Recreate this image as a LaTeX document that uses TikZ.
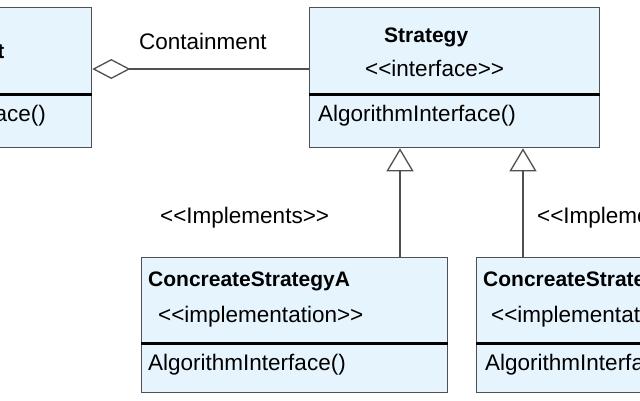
\documentclass[tikz,border=0pt]{standalone}
\usepackage{fontspec}
\setmainfont{Liberation Sans}[Ligatures=TeXOff]
\usetikzlibrary{arrows.meta}
\definecolor{boxfill}{HTML}{E6F5FD}
\definecolor{edge}{HTML}{505050}
\begin{document}
\begin{tikzpicture}[x=1pt,y=-1pt,
 umlbox/.style={draw=edge, fill=boxfill, line width=1.3pt, rectangle, inner sep=0pt, anchor=north west},
 divider/.style={line width=3pt, black},
 lbl/.style={font=\fontsize{22.5}{26}\selectfont, inner sep=0pt, anchor=base west, text=black},
 title/.style={font=\fontsize{21}{25}\selectfont\bfseries, inner sep=0pt, anchor=base west, text=black},
 link/.style={draw=edge, line width=1.3pt},
 inherit/.style={link, -{Triangle[open, length=23pt, width=27pt, fill=white]}},
 aggr/.style={link, {Diamond[open, length=38pt, width=20pt, fill=white]}-}]
\fill[white] (0,0) rectangle (640,400);
\useasboundingbox (0,0) rectangle (640,400);
\clip (0,0) rectangle (640,400);
\coordinate (d1) at (0,94);
\coordinate (d2) at (0,343);
\coordinate (cy) at (0,69);
\coordinate (xa) at (400,0);
\coordinate (xb) at (523,0);
% boxes
\node[umlbox, minimum width=291pt, minimum height=140pt] (ctx) at (-200,7) {};
\node[umlbox, minimum width=290pt, minimum height=140pt] (strat) at (309,7) {};
\node[umlbox, minimum width=306pt, minimum height=135pt] (ba) at (141,257) {};
\node[umlbox, minimum width=300pt, minimum height=135pt] (bb) at (476,257) {};
% dividers
\draw[divider] (ctx.west |- d1) -- (ctx.east |- d1);
\draw[divider] (strat.west |- d1) -- (strat.east |- d1);
\draw[divider] (ba.west |- d2) -- (ba.east |- d2);
\draw[divider] (bb.west |- d2) -- (bb.east |- d2);
% connectors
\draw[aggr] (ctx.east |- cy) -- (strat.west |- cy);
\draw[inherit] (ba.north -| xa) -- (strat.south -| xa);
\draw[inherit] (bb.north -| xb) -- (strat.south -| xb);
% texts
\node[title, anchor=base east] (ctxname) at (4.5,58) {t};
\node[lbl, anchor=base east] (ctxop) at (46,121) {ace()};
\node[lbl] (cont) at (139,49) {Containment};
\node[title] (sname) at (384,42) {Strategy};
\node[lbl] (sster) at (365,76) {<<interface>>};
\node[lbl] (sop) at (318,121) {AlgorithmInterface()};
\node[lbl] (impl1) at (160,223) {<<Implements>>};
\node[lbl] (impl2) at (537,223) {<<Impleme};
\node[title] (aname) at (148,286) {ConcreateStrategyA};
\node[lbl] (aster) at (158,322) {<<implementation>>};
\node[lbl] (aop) at (148,370) {AlgorithmInterface()};
\node[title] (bname) at (483,286) {ConcreateStrate};
\node[lbl] (bster) at (491,322) {<<implementat};
\node[lbl] (bop) at (485,370) {AlgorithmInterfa};
\end{tikzpicture}
\end{document}
